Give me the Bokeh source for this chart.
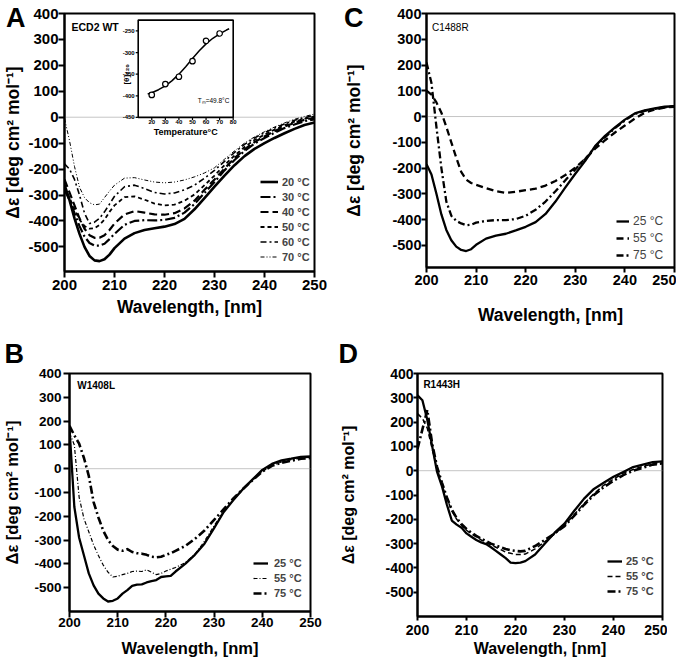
import math
from bokeh.plotting import figure
from bokeh.models import Range1d, FixedTicker, Span, Legend, LegendItem, Label, LinearAxis
from bokeh.layouts import column, row
from bokeh.embed import file_html
from bokeh.resources import INLINE
from bokeh.core.properties import value

FONT = "Liberation Sans"
YTITLE = "Δε [deg cm² mol⁻¹]"
XTITLE = "Wavelength, [nm]"

# ---------------- data ----------------
xticks = [200, 210, 220, 230, 240, 250]
xtick_labels = ["200", "210", "220", "230", "240", "250"]
yticks = [-500, -400, -300, -200, -100, 0, 100, 200, 300, 400]
ytick_labels = ["-500", "-400", "-300", "-200", "-100", "0", "100", "200", "300", "400"]

# Panel A : ECD2 WT
wl_A = [200, 201, 202, 203, 204, 205, 206, 207, 208, 209, 210, 212, 214, 216, 218, 220,
        222, 224, 226, 228, 230, 232, 234, 236, 238, 240, 242, 244, 246, 248, 250]
temps_A = [20, 30, 40, 50, 60, 70]
A_20 = [-260, -320, -390, -450, -500, -535, -552, -555, -548, -530, -505, -468, -447, -435, -428, -422,
        -412, -392, -355, -312, -268, -225, -185, -150, -122, -100, -80, -62, -45, -30, -20]
A_30 = [-280, -320, -370, -420, -460, -485, -495, -495, -488, -470, -450, -415, -400, -397, -398, -396,
        -388, -368, -335, -292, -250, -205, -165, -130, -102, -80, -60, -42, -28, -15, -8]
A_40 = [-240, -290, -340, -390, -430, -455, -465, -465, -455, -435, -410, -375, -362, -368, -375, -376,
        -370, -352, -322, -280, -240, -198, -158, -124, -96, -74, -54, -36, -22, -10, -2]
A_50 = [-270, -310, -355, -395, -420, -430, -428, -415, -395, -365, -340, -308, -305, -318, -333, -340,
        -337, -322, -298, -262, -225, -185, -148, -115, -88, -67, -48, -31, -17, -6, 3]
A_60 = [-180, -200, -240, -300, -370, -410, -405, -390, -365, -335, -305, -268, -262, -275, -290, -296,
        -292, -280, -262, -235, -205, -170, -136, -105, -80, -60, -42, -26, -12, -2, 8]
A_70 = [-5, -90, -190, -270, -310, -330, -338, -335, -310, -285, -262, -235, -233, -242, -250, -253,
        -250, -242, -230, -215, -195, -162, -130, -100, -76, -56, -38, -22, -8, 3, 12]

# Inset of panel A : [theta]220 vs temperature
inset_xlim = [10, 80]
inset_ylim = [-450, -225]
inset_xticks = [20, 30, 40, 50, 60, 70, 80]
inset_xtick_labels = ["20", "30", "40", "50", "60", "70", "80"]
inset_yticks = [-450, -400, -350, -300, -250]
inset_ytick_labels = ["-450", "-400", "-350", "-300", "-250"]
inset_T = [20, 30, 40, 50, 60, 70]
inset_theta = [-398, -373, -356, -320, -273, -256]
fit_T = [17, 20, 25, 30, 35, 40, 45, 50, 55, 60, 65, 70, 75, 77]
fit_theta = [-396, -393, -386, -377, -365, -350, -333, -314, -296, -280, -267, -257, -248, -245]

# Panel C : C1488R
wl_C = [200, 201, 202, 203, 204, 205, 206, 207, 208, 209, 210, 212, 214, 216, 218, 220,
        222, 224, 226, 228, 230, 232, 234, 236, 238, 240, 242, 244, 246, 248, 250]
C_25 = [-185, -225, -300, -380, -440, -480, -505, -518, -522, -515, -498, -474, -462, -455, -442, -428,
        -410, -378, -330, -275, -222, -172, -115, -75, -42, -12, 12, 24, 32, 38, 40]
C_55 = [100, 85, 55, 15, -40, -100, -160, -215, -245, -258, -265, -278, -290, -296, -292, -286,
        -280, -268, -250, -227, -198, -165, -125, -92, -62, -35, -8, 15, 27, 35, 38]
C_75 = [210, 130, -40, -200, -330, -385, -405, -415, -422, -420, -412, -405, -402, -402, -398, -385,
        -362, -330, -290, -247, -205, -165, -118, -80, -45, -15, 10, 22, 30, 36, 40]

# Panel B : W1408L
wl_B = [200, 201, 202, 203, 204, 205, 206, 207, 208, 209, 210, 211, 212, 213, 214, 215, 216, 217,
        218, 219, 220, 221, 222, 224, 226, 228, 230, 232, 234, 236, 238, 240, 242, 244, 246, 248, 250]
B_25 = [170, -160, -290, -365, -440, -490, -525, -545, -558, -555, -545, -525, -510, -492, -487, -486,
        -478, -472, -468, -455, -452, -450, -432, -400, -362, -315, -250, -182, -132, -85, -45, -5,
        20, 35, 42, 50, 52]
B_55 = [150, 100, -120, -210, -265, -320, -365, -405, -435, -455, -452, -445, -440, -432, -430, -432,
        -425, -435, -445, -440, -430, -422, -415, -395, -360, -305, -240, -178, -130, -85, -48, -12,
        15, 28, 38, 45, 48]
B_75 = [180, 140, 105, 45, -30, -140, -205, -260, -300, -325, -340, -345, -338, -350, -355, -357,
        -362, -370, -372, -370, -362, -355, -345, -325, -295, -260, -215, -170, -125, -85, -48, -12,
        12, 25, 33, 42, 45]

# Panel D : R1443H
wl_D = [200, 201, 202, 203, 204, 205, 206, 207, 208, 209, 210, 211, 212, 213, 214, 215, 216, 217,
        218, 219, 220, 221, 222, 224, 226, 228, 230, 232, 234, 236, 238, 240, 242, 244, 246, 248, 250]
D_25 = [310, 290, 210, 100, -5, -65, -140, -205, -222, -235, -258, -272, -285, -295, -302, -315,
        -330, -345, -360, -378, -380, -378, -372, -345, -300, -255, -218, -165, -115, -75, -50, -25,
        -5, 15, 25, 35, 38]
D_55 = [235, 215, 175, 90, 10, -60, -115, -165, -200, -225, -245, -260, -272, -285, -295, -305,
        -315, -325, -335, -340, -345, -345, -343, -322, -292, -260, -225, -180, -135, -95, -60, -35,
        -10, 5, 18, 28, 32]
D_75 = [90, 170, 250, 110, 15, -50, -110, -160, -195, -220, -240, -255, -268, -280, -290, -300,
        -308, -315, -322, -327, -330, -332, -330, -310, -285, -258, -228, -185, -140, -100, -68, -42,
        -18, 0, 12, 25, 30]
temps_BCD = [25, 55, 75]


# ---------------- helpers ----------------
def base_fig(fw, fh, bl, br, bt, bb, yr, tick_px, title_px, tick_out,
             x_std, x_lab_std, y_std, y_lab_std, y_title=True):
    p = figure(frame_width=fw, frame_height=fh, width=bl + fw + br, height=bt + fh + bb,
               x_range=Range1d(200, 250), y_range=Range1d(*yr),
               output_backend="svg", toolbar_location=None, tools="",
               min_border_left=bl, min_border_right=br, min_border_top=bt, min_border_bottom=bb)
    p.background_fill_color = "white"
    p.border_fill_color = "white"
    p.outline_line_color = "black"
    p.outline_line_width = 2
    p.grid.visible = False
    xa, ya = p.xaxis[0], p.yaxis[0]
    xa.ticker = FixedTicker(ticks=xticks)
    xa.major_label_overrides = dict(zip(xticks, xtick_labels))
    ya.ticker = FixedTicker(ticks=yticks)
    ya.major_label_overrides = dict(zip(yticks, ytick_labels))
    for ax in (xa, ya):
        ax.axis_line_width = 2
        ax.axis_line_color = "black"
        ax.major_tick_line_width = 2
        ax.major_tick_line_color = "black"
        ax.major_tick_in = 0
        ax.major_tick_out = tick_out
        ax.minor_tick_line_color = None
        ax.major_label_text_font = FONT
        ax.major_label_text_font_style = "bold"
        ax.major_label_text_font_size = tick_px
        ax.major_label_text_color = "black"
        ax.axis_label_text_font = FONT
        ax.axis_label_text_font_style = "bold"
        ax.axis_label_text_font_size = title_px
        ax.axis_label_text_color = "black"
    xa.axis_label = XTITLE
    ya.axis_label = YTITLE if y_title else None
    xa.major_label_standoff = x_std
    xa.axis_label_standoff = x_lab_std
    ya.major_label_standoff = y_std
    ya.axis_label_standoff = y_lab_std
    p.add_layout(Span(location=0, dimension="width", line_color="#8a8a8a",
                      line_dash="1 1", line_width=1, level="underlay"))
    return p


def letter_axis(p, letter, top, letter_standoff, title_px, title_standoff):
    # outer left axis: carries the panel letter (at the top tick) and the y title
    ax = LinearAxis(ticker=FixedTicker(ticks=[top]), major_label_overrides={top: letter},
                    axis_line_color=None, major_tick_line_color=None, minor_tick_line_color=None,
                    major_tick_in=0, major_tick_out=0, major_label_standoff=letter_standoff,
                    major_label_text_font=FONT, major_label_text_font_style="bold",
                    major_label_text_font_size="27px", major_label_text_color="black",
                    axis_label=YTITLE, axis_label_text_font=FONT, axis_label_text_font_style="bold",
                    axis_label_text_font_size=title_px, axis_label_text_color="black",
                    axis_label_standoff=title_standoff)
    p.add_layout(ax, "left")


def letter_title(p, letter, offset):
    p.title.text = letter
    p.title.align = "left"
    p.title.offset = offset
    p.title.text_font = FONT
    p.title.text_font_size = "27px"
    p.title.text_font_style = "bold"
    p.title.text_color = "black"


def add_curves(p, wl, series, temps, styles, loc, gw, gh, spacing, font_px, bold, standoff):
    items = []
    for vals, t, (dash, lw) in zip(series, temps, styles):
        r = p.line(wl, vals, line_color="black", line_width=lw, line_dash=dash,
                   line_join="round")
        items.append(LegendItem(label=f"{t} °C", renderers=[r]))
    leg = Legend(items=items, location=loc, glyph_width=gw, glyph_height=gh,
                 label_height=gh, spacing=spacing, padding=0, margin=0,
                 border_line_color=None, background_fill_alpha=0,
                 label_text_font=FONT, label_text_font_size=font_px,
                 label_text_font_style="bold" if bold else "normal",
                 label_standoff=standoff)
    p.add_layout(leg)


def add_text(p, x, y, text, size, bold=True, baseline="middle", align="left", **kw):
    p.add_layout(Label(x=x, y=y, text=text, text_font=FONT, text_font_size=size,
                       text_font_style="bold" if bold else "normal",
                       text_baseline=baseline, text_align=align, text_color="black", **kw))


# ---------------- Panel A ----------------
pA = base_fig(250, 258, 55, 27, 11, 61, (-595, 400), "15px", "17.5px", 6, 2, 4, 0, 0, y_title=False)
letter_axis(pA, "A", 400, 0, "17.5px", -20)
add_curves(pA, wl_A, [A_20, A_30, A_40, A_50, A_60, A_70], temps_A,
           [("solid", 2.6), ("10 3 2 3", 2.2), ("8 4", 2.2), ("4 3", 1.8),
            ("6 3 2 3", 1.6), ("4 2 1 2 1 2", 1.0)],
           (196, 7), 18, 15, 0, "11px", True, 4)
add_text(pA, 201.4, 348.6, "ECD2 WT", "10.5px")

# inset drawn in its own scales inside panel A's frame
pA.extra_x_ranges = {"ix": Range1d(-44.31, 139.91)}
pA.extra_y_ranges = {"iy": Range1d(-806.35, -209.74)}
ik = dict(x_range_name="ix", y_range_name="iy")
pA.quad(left=[inset_xlim[0]], right=[inset_xlim[1]], bottom=[inset_ylim[0]], top=[inset_ylim[1]],
        fill_color="white", line_color="black", line_width=1.6, **ik)
tick_dy = 2.5 / 0.43244
tick_dx = 2.5 / (95 / 70)
pA.segment(x0=inset_xticks, x1=inset_xticks, y0=[inset_ylim[0]] * len(inset_xticks),
           y1=[inset_ylim[0] - tick_dy] * len(inset_xticks), line_color="black", line_width=1.2, **ik)
pA.segment(x0=[inset_xlim[0]] * len(inset_yticks), x1=[inset_xlim[0] - tick_dx] * len(inset_yticks),
           y0=inset_yticks, y1=inset_yticks, line_color="black", line_width=1.2, **ik)
pA.text(x=inset_xticks, y=[inset_ylim[0]] * len(inset_xticks), text=inset_xtick_labels,
        y_offset=2.5, text_align="center", text_baseline="top", text_font=value(FONT),
        text_font_size="6px", text_font_style="bold", text_color="black", **ik)
pA.text(x=[inset_xlim[0]] * len(inset_yticks), y=inset_yticks, text=inset_ytick_labels,
        x_offset=-3.5, text_align="right", text_baseline="middle", text_font=value(FONT),
        text_font_size="6px", text_font_style="bold", text_color="black", **ik)
pA.line(fit_T, fit_theta, line_color="black", line_width=1.5, **ik)
pA.scatter(inset_T, inset_theta, marker="circle", size=5.5, fill_color="white",
           line_color="black", line_width=1.2, **ik)
add_text(pA, 45, -483.9, "Temperature°C", "9px", align="center", **ik)
add_text(pA, 1.4, -350.5, "[θ]₂₂₀", "8px", align="center", angle=math.pi / 2, **ik)
add_text(pA, 65.5, -410.4, "Tₘ=49.8°C", "6.5px", bold=False, align="center", **ik)

# ---------------- Panel C ----------------
pC = base_fig(248, 254, 82, 2, 13, 63, (-586, 400), "14.5px", "17.5px", 5, 2, 17, 0, 0, y_title=False)
letter_axis(pC, "C", 400, 26, "17.5px", -23)
add_curves(pC, wl_C, [C_25, C_55, C_75], temps_BCD,
           [("solid", 2.3), ("7 4", 2.3), ("7 3 2 3", 2.3)],
           (190, 5), 13, 14, 3, "12px", False, 4)
add_text(pC, 201.1, 346.8, "C1488R", "10px", bold=False)

# ---------------- Panel B ----------------
pB = base_fig(241, 238, 66, 25, 43, 49, (-600, 400), "13.5px", "16.5px", 6, 0, 9, 2, 10)
letter_title(pB, "B", -65)
add_curves(pB, wl_B, [B_25, B_55, B_75], temps_BCD,
           [("solid", 2.3), ("4 2 1 2", 1.2), ("8 3 2 3", 2.6)],
           (184, 11), 15, 14, 1, "11px", True, 6)
add_text(pB, 201.6, 350.4, "W1408L", "10px")

# ---------------- Panel D ----------------
pD = base_fig(245, 243, 82, 5, 43, 44, (-600, 400), "14px", "16px", 4, 4, 2, 0, 25)
letter_title(pD, "D", -79)
add_curves(pD, wl_D, [D_25, D_55, D_75], temps_BCD,
           [("solid", 2.3), ("5 3", 1.5), ("8 3 2 3", 2.6)],
           (190, 18), 15, 14, 1, "11px", True, 4)
add_text(pD, 201.2, 355.7, "R1443H", "10px")

layout = column(row(pA, pC), row(pB, pD))
open("out.html", "w").write(file_html(layout, INLINE))
